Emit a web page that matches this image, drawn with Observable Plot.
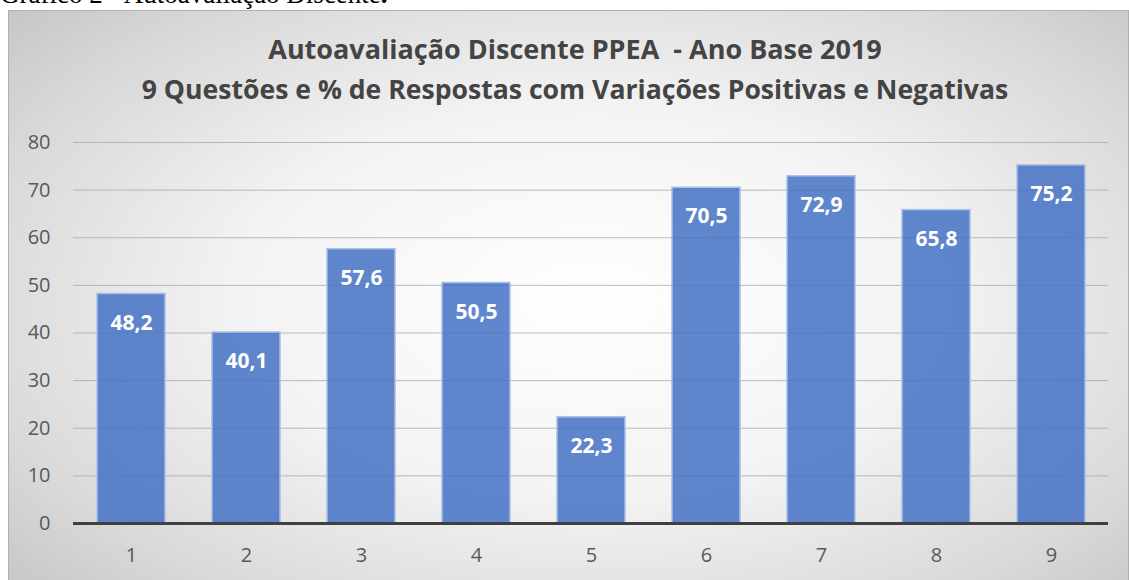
<!DOCTYPE html>
<html>
<head>
<meta charset="utf-8">
<script src="https://cdn.jsdelivr.net/npm/d3@7"></script>
<script src="https://cdn.jsdelivr.net/npm/@observablehq/plot@0.6"></script>
<style>
  html, body { margin: 0; padding: 0; width: 1129px; height: 580px; overflow: hidden; background: #fff; }
  #caption { position: absolute; left: 0; top: -21px; font-family: "Liberation Serif", "Times New Roman", serif; font-size: 27px; color: #000; white-space: nowrap; }
  #frame { position: absolute; left: 8px; top: 10px; width: 1119px; height: 580px; border: 1px solid #b0b0b0;
    background: radial-gradient(ellipse 70% 75% at 52% 50%, #ffffff 0%, #f3f3f3 45%, #d9d9d9 80%, #c6c6c6 100%); }
  #title { position: absolute; left: 0; top: 29px; width: 1150px; text-align: center; font-family: "Open Sans", sans-serif;
    font-weight: bold; font-size: 27px; line-height: 40px; color: #444444; }
  #title .l2 { font-size: 26.6px; }
  #chart { position: absolute; left: 0; top: 110px; }
</style>
</head>
<body>
<div id="caption">Gráfico 2 - Autoavaliação Discente<b>.</b></div>
<div id="frame"></div>
<div id="title">Autoavaliação Discente PPEA&nbsp; - Ano Base 2019<br><span class="l2">9 Questões e % de Respostas com Variações Positivas e Negativas</span></div>
<div id="chart"></div>
<script>
const questions = ["1", "2", "3", "4", "5", "6", "7", "8", "9"];
const values = [48.2, 40.1, 57.6, 50.5, 22.3, 70.5, 72.9, 65.8, 75.2];
const yTicks = [0, 10, 20, 30, 40, 50, 60, 70, 80];

const data = questions.map((q, i) => ({q, v: values[i], label: values[i].toFixed(1).replace(".", ",")}));

const plot = Plot.plot({
  width: 1129,
  height: 470,
  marginLeft: 73,
  marginRight: 21,
  marginTop: 32,
  marginBottom: 57,
  style: {background: "transparent", fontFamily: "Open Sans, sans-serif", fontSize: "20px", color: "#595959", overflow: "visible"},
  x: {domain: questions, paddingInner: 0.41, paddingOuter: 0.205},
  y: {domain: [0, 80]},
  marks: [
    Plot.gridY(yTicks.filter(d => d > 0), {stroke: "#a6a6a6", strokeOpacity: 0.75, strokeWidth: 1}),
    Plot.axisY(yTicks, {label: null, tickSize: 0, tickPadding: 23, fontSize: 20, fill: "#595959"}),
    Plot.axisX({label: null, tickSize: 0, tickPadding: 24, fontSize: 20, fill: "#595959"}),
    Plot.barY(data, {x: "q", y: "v", fill: "#4472c4", fillOpacity: 0.85, stroke: "#a9c0e8", strokeWidth: 1.5}),
    Plot.text(data, {x: "q", y: "v", text: "label", dy: 29, fill: "white", fontWeight: "bold", fontSize: 21}),
    Plot.ruleY([0], {stroke: "#404040", strokeWidth: 3})
  ]
});
document.getElementById("chart").appendChild(plot);
</script>
</body>
</html>
